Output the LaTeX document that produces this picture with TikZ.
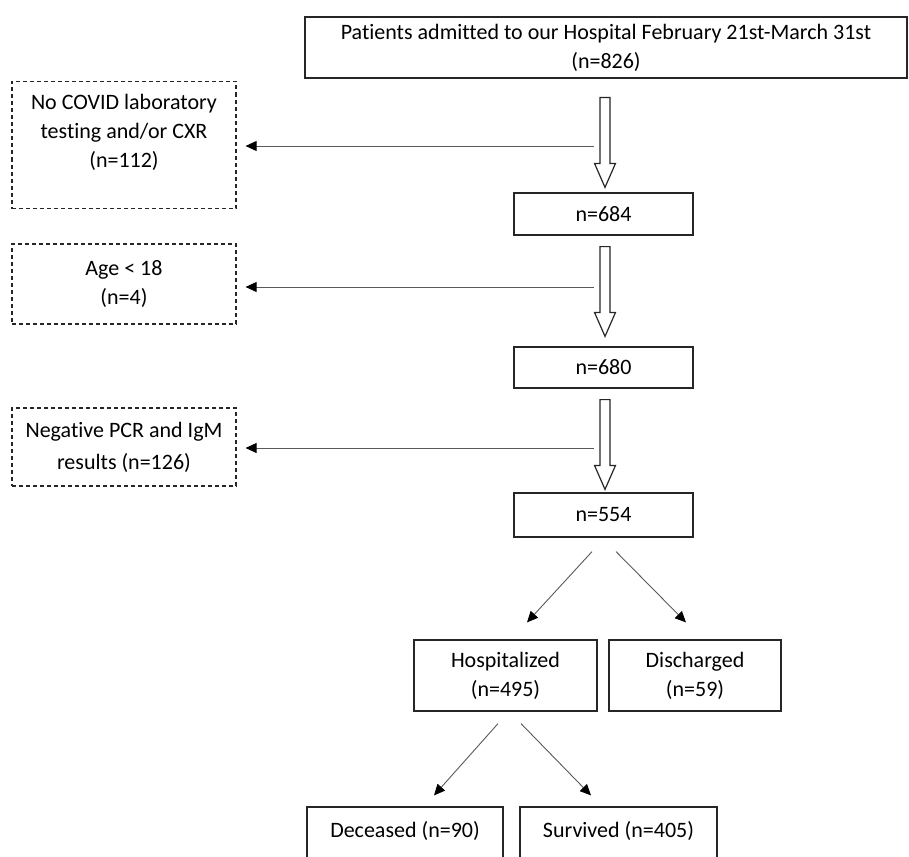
\documentclass[tikz,border=0pt]{standalone}
\usepackage{fontspec}
\setmainfont{Carlito}[Ligatures=NoCommon]
\usepackage{tikz}
\usetikzlibrary{calc}
\usetikzlibrary{positioning}
\usetikzlibrary{arrows.meta}
\tikzset{>={Triangle[length=11pt,width=10pt,color=black]}}

% hollow block arrow: from node, to node, gap below first, gap above second
\newcommand{\hollowarrow}[4]{%
  \draw[hollow] let \p1=($(#1.south -| #2.north)+(1.5,#3)$), \p2=($(#2.north)+(1.5,-#4)$) in
    (\x1-5pt,\y1) -- (\x1+5pt,\y1) -- (\x1+5pt,\y2+24pt) -- (\x1+10.5pt,\y2+24pt)
    -- (\x1,\y2) -- (\x1-10.5pt,\y2+24pt) -- (\x1-5pt,\y2+24pt) -- cycle;}

\begin{document}
\begin{tikzpicture}[x=1pt,y=-1pt,
    font=\fontsize{22pt}{29pt}\selectfont,
    box/.style={draw=black!85, line width=1.2pt, align=center, inner sep=0pt},
    excl/.style={box, dash pattern=on 4pt off 3pt},
    line/.style={->, draw=black!65, line width=0.9pt},
    hollow/.style={draw=black!85, line width=1.2pt, fill=white, line join=miter}]
  \useasboundingbox (0,0) rectangle (909,856);

  % main column
  \node[box, minimum width=602pt, minimum height=61pt] (top) at (606,47.5)
    {Patients admitted to our Hospital February 21st-March 31st\\(n=826)};
  \node[box, minimum width=179pt, minimum height=42pt] (n684) at (603.5,214) {n=684};
  \node[box, minimum width=179pt, minimum height=41pt] (n680) at (603.5,367.5) {n=680};
  \node[box, minimum width=179pt, minimum height=44pt] (n554) at (603.5,515) {n=554};

  % exclusions
  \node[excl, minimum width=224pt, minimum height=127pt] (excl1) at (124,145)
    {No COVID laboratory\\testing and/or CXR\\(n=112)\\\mbox{}};
  \node[excl, minimum width=224pt, minimum height=80pt] (excl2) at (124,284)
    {Age < 18\\(n=4)};
  \node[excl, minimum width=224pt, minimum height=78pt] (excl3) at (124,447)
    {Negative PCR and IgM\\[3pt]results (n=126)};

  % outcomes
  \node[box, minimum width=183pt, minimum height=71pt] (hosp) at (505.5,675.5)
    {Hospitalized\\(n=495)};
  \node[box, minimum width=172pt, minimum height=71pt] (disch) at (695,675.5)
    {Discharged\\(n=59)};
  \node[box, minimum width=196pt, minimum height=66pt, text height=15pt, text depth=20pt] (dec) at (405,840)
    {Deceased (n=90)};
  \node[box, minimum width=197pt, minimum height=66pt, text height=15pt, text depth=20pt] (surv) at (618.5,840)
    {Survived (n=405)};

  % block arrows
  \hollowarrow{top}{n684}{19}{5}
  \hollowarrow{n684}{n680}{11}{10}
  \hollowarrow{n680}{n554}{11}{3}

  % excluded
  \draw[line] ($(n684.north |- excl1.east)+(-10,1)$) -- ($(excl1.east)+(9,1)$);
  \draw[line] ($(n684.north |- excl2.east)+(-10,3)$) -- ($(excl2.east)+(9,3)$);
  \draw[line] ($(n684.north |- excl3.east)+(-10,1)$) -- ($(excl3.east)+(9,1)$);

  % splits
  \draw[line] ($(n554.south)+(-11.5,14)$) -- ($(hosp.north)+(21.5,-17)$);
  \draw[line] ($(n554.south)+(12.5,14)$) -- ($(disch.north)+(-9,-17)$);
  \draw[line] ($(hosp.south)+(-7.5,12)$) -- ($(dec.north)+(29,-11)$);
  \draw[line] ($(hosp.south)+(15.5,12)$) -- ($(surv.north)+(-27.5,-11)$);
\end{tikzpicture}
\end{document}
